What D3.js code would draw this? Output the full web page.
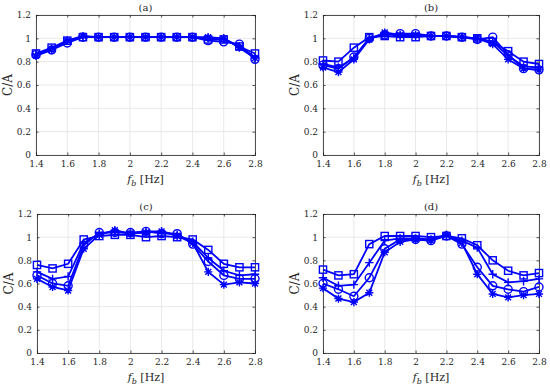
<!DOCTYPE html>
<html>
<head>
<meta charset="utf-8">
<script src="https://cdn.jsdelivr.net/npm/d3@7"></script>
<style>
body{margin:0;background:#fff}
svg{display:block}
</style>
</head>
<body>
<svg id="chart" width="550" height="391"></svg>
<script>
let fb=[1.4,1.5,1.6,1.7,1.8,1.9,2.0,2.1,2.2,2.3,2.4,2.5,2.6,2.7,2.8]
let xTicks=[1.4,1.6,1.8,2,2.2,2.4,2.6,2.8]
let yTicks=[0,0.2,0.4,0.6,0.8,1,1.2]
let markers=['square','plus','circle','asterisk']
let titles=['(a)','(b)','(c)','(d)']

// C/A values per panel, one array per marker
let aSquare  =[0.87,0.92,0.98,1.01,1.01,1.01,1.01,1.01,1.01,1.01,1.01,0.99,0.99,0.93,0.87]
let aPlus    =[0.86,0.91,0.98,1.01,1.01,1.01,1.01,1.01,1.01,1.01,1.01,1.00,1.00,0.93,0.84]
let aCircle  =[0.86,0.90,0.96,1.01,1.01,1.01,1.01,1.01,1.01,1.01,1.01,0.98,0.97,0.95,0.82]
let aAsterisk=[0.85,0.90,0.98,1.02,1.01,1.01,1.01,1.01,1.01,1.01,1.01,1.01,1.00,0.92,0.83]

let bSquare  =[0.81,0.80,0.92,1.01,1.02,1.01,1.01,1.02,1.02,1.01,1.00,0.97,0.89,0.80,0.78]
let bPlus    =[0.78,0.75,0.83,1.00,1.04,1.02,1.02,1.02,1.02,1.01,1.00,0.97,0.85,0.76,0.75]
let bCircle  =[0.77,0.74,0.84,1.00,1.03,1.04,1.04,1.02,1.02,1.01,0.99,1.01,0.86,0.74,0.73]
let bAsterisk=[0.75,0.71,0.82,0.99,1.05,1.03,1.03,1.02,1.02,1.01,1.00,0.95,0.82,0.74,0.73]

let cSquare  =[0.76,0.73,0.77,0.98,1.01,1.02,1.02,1.00,1.01,1.00,0.98,0.89,0.77,0.74,0.74]
let cPlus    =[0.70,0.64,0.66,0.95,1.03,1.05,1.03,1.05,1.05,1.02,0.96,0.82,0.71,0.67,0.68]
let cCircle  =[0.67,0.60,0.58,0.93,1.04,1.04,1.04,1.05,1.03,1.03,0.94,0.79,0.67,0.64,0.64]
let cAsterisk=[0.64,0.57,0.54,0.90,1.02,1.06,1.03,1.04,1.05,1.01,0.95,0.70,0.59,0.61,0.60]

let dSquare  =[0.72,0.67,0.68,0.94,1.01,1.01,1.01,1.00,1.01,0.99,0.93,0.80,0.71,0.67,0.69]
let dPlus    =[0.65,0.58,0.59,0.78,0.97,0.99,0.99,0.98,1.02,0.97,0.91,0.68,0.61,0.62,0.64]
let dCircle  =[0.60,0.55,0.49,0.65,0.90,0.98,0.98,0.97,1.01,0.94,0.74,0.58,0.55,0.53,0.57]
let dAsterisk=[0.56,0.47,0.44,0.52,0.87,0.96,0.98,0.97,1.02,0.95,0.68,0.51,0.48,0.50,0.51]

let panels=[
  {title:titles[0],series:[aSquare,aPlus,aCircle,aAsterisk],x0:36,x1:255,y0:15,y1:155},
  {title:titles[1],series:[bSquare,bPlus,bCircle,bAsterisk],x0:323,x1:539,y0:15,y1:155},
  {title:titles[2],series:[cSquare,cPlus,cCircle,cAsterisk],x0:37,x1:255,y0:214,y1:353},
  {title:titles[3],series:[dSquare,dPlus,dCircle,dAsterisk],x0:323,x1:539,y0:214,y1:353}
]

let blue='#0000ff'
let serif="'DejaVu Serif', serif"
let svg=d3.select('#chart')

function drawMarker(g,type,x,y){
  let r=3.6
  if(type=='square'){
    g.append('rect').attr('x',x-r).attr('y',y-r).attr('width',2*r).attr('height',2*r)
      .attr('fill','none').attr('stroke',blue).attr('stroke-width',1.4)
  }else if(type=='circle'){
    g.append('circle').attr('cx',x).attr('cy',y).attr('r',r+0.4)
      .attr('fill','none').attr('stroke',blue).attr('stroke-width',1.4)
  }else if(type=='plus'){
    g.append('path').attr('d',`M${x-r-0.6},${y}H${x+r+0.6}M${x},${y-r-0.6}V${y+r+0.6}`)
      .attr('stroke',blue).attr('stroke-width',1.4)
  }else{
    let s=r+0.5,d=s*0.72
    g.append('path').attr('d',`M${x-s},${y}H${x+s}M${x},${y-s}V${y+s}M${x-d},${y-d}L${x+d},${y+d}M${x-d},${y+d}L${x+d},${y-d}`)
      .attr('stroke',blue).attr('stroke-width',1.4)
  }
}

panels.forEach(p=>{
  let x=d3.scaleLinear().domain([1.4,2.8]).range([p.x0,p.x1])
  let y=d3.scaleLinear().domain([0,1.2]).range([p.y1,p.y0])
  let g=svg.append('g')

  // grid
  g.selectAll('.gx').data(xTicks).enter().append('line')
    .attr('x1',d=>x(d)).attr('x2',d=>x(d)).attr('y1',p.y0).attr('y2',p.y1)
    .attr('stroke','#e3e3e3').attr('stroke-width',0.8)
  g.selectAll('.gy').data(yTicks).enter().append('line')
    .attr('x1',p.x0).attr('x2',p.x1).attr('y1',d=>y(d)).attr('y2',d=>y(d))
    .attr('stroke','#e3e3e3').attr('stroke-width',0.8)

  // axes with inward ticks
  g.append('g').attr('transform',`translate(0,${p.y1})`)
    .call(d3.axisBottom(x).tickValues(xTicks).tickSize(-2.5).tickPadding(6).tickFormat(d3.format('')))
  g.append('g').attr('transform',`translate(${p.x0},0)`)
    .call(d3.axisLeft(y).tickValues(yTicks).tickSize(-2.5).tickPadding(5).tickFormat(d3.format('')))
  g.append('g').attr('transform',`translate(0,${p.y0})`)
    .call(d3.axisTop(x).tickValues(xTicks).tickSize(-2.5).tickFormat(''))
  g.append('g').attr('transform',`translate(${p.x1},0)`)
    .call(d3.axisRight(y).tickValues(yTicks).tickSize(-2.5).tickFormat(''))
  g.selectAll('.domain').attr('stroke','#262626').attr('stroke-width',0.8)
  g.selectAll('.tick line').attr('stroke','#262626').attr('stroke-width',0.8)
  g.selectAll('.tick text').attr('font-size',9).attr('fill','#262626')
    .attr('font-family',serif)

  // series
  let line=d3.line().x((d,i)=>x(fb[i])).y(d=>y(d))
  p.series.forEach((s,k)=>{
    g.append('path').datum(s).attr('d',line).attr('fill','none')
      .attr('stroke',blue).attr('stroke-width',1.8)
    s.forEach((v,i)=>drawMarker(g,markers[k],x(fb[i]),y(v)))
  })

  // labels
  let cx=(p.x0+p.x1)/2
  g.append('text').attr('x',cx).attr('y',p.y0-4).attr('text-anchor','middle')
    .attr('font-family',serif).attr('fill','#262626').attr('font-size',10).text(p.title)
  let xl=g.append('text').attr('x',cx).attr('y',p.y1+28).attr('text-anchor','middle')
    .attr('font-family',serif).attr('fill','#262626').attr('font-size',11)
  xl.append('tspan').attr('font-style','italic').text('f')
  xl.append('tspan').attr('font-style','italic').attr('font-size',8).attr('dy',2.5).text('b')
  xl.append('tspan').attr('dy',-2.5).text(' [Hz]')
  g.append('text').attr('transform',`translate(${p.x0-24},${(p.y0+p.y1)/2}) rotate(-90)`)
    .attr('font-family',serif).attr('fill','#262626')
    .attr('text-anchor','middle').attr('font-size',12).text('C/A')
})
</script>
</body>
</html>
